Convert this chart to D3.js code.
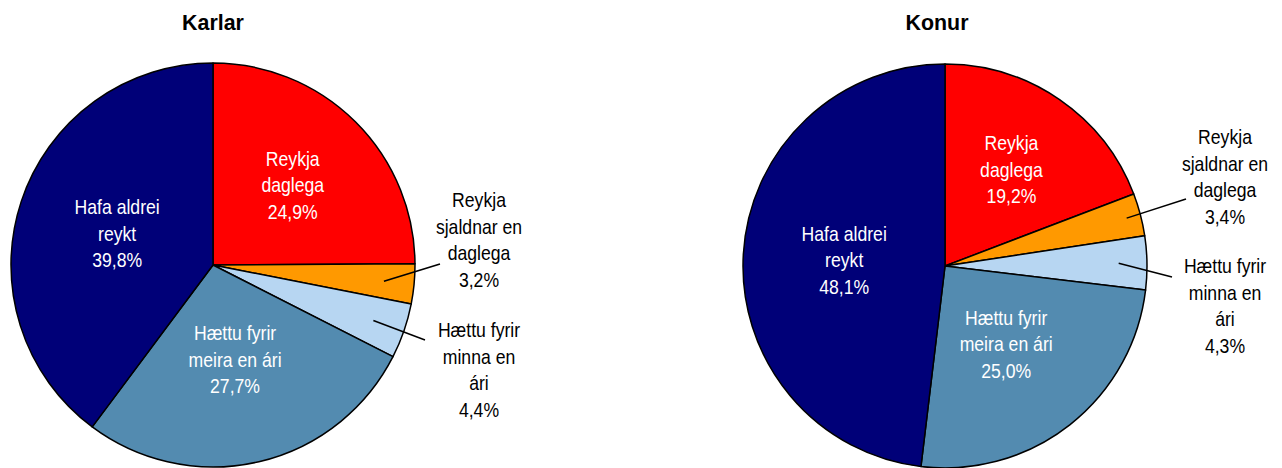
<!DOCTYPE html>
<html>
<head>
<meta charset="utf-8">
<script src="https://cdn.jsdelivr.net/npm/d3@7/dist/d3.min.js"></script>
<style>
  html, body { margin: 0; padding: 0; background: #fff; }
  svg { display: block; }
  text { font-family: "Liberation Sans", Arial, sans-serif; }
</style>
</head>
<body>
<svg id="chart" width="1282" height="468"></svg>
<script>
// ---- data ----
const categories = [
  ["Reykja", "daglega"],
  ["Reykja", "sjaldnar en", "daglega"],
  ["Hættu fyrir", "minna en", "ári"],
  ["Hættu fyrir", "meira en ári"],
  ["Hafa aldrei", "reykt"]
];
const titles = ["Karlar", "Konur"];
const karlar = [24.9, 3.2, 4.4, 27.7, 39.8];
const konur = [19.2, 3.4, 4.3, 25.0, 48.1];
const seriesValues = [karlar, konur];

// ---- styles / layout ----
const colors = ["#FF0000", "#FF9900", "#B7D6F2", "#538BB0", "#000078"];
const insideText = [true, false, false, true, true];
const R = 202;
const layouts = [
  { cx: 213, cy: 265, titleX: 213,
    outside: { 1: { tx: 266, ty: -65, ex: 227, ey: -1, r: 0.85 },
               2: { tx: 266, ty: 65, ex: 212, ey: 75, r: 0.84 } },
    inR: [0.56, 0, 0, 0.48, 0.5] },
  { cx: 945, cy: 266, titleX: 937,
    outside: { 1: { tx: 280, ty: -129, ex: 241, ey: -67, r: 0.93 },
               2: { tx: 280, ty: 0, ex: 227, ey: 11, r: 0.86 } },
    inR: [0.58, 0, 0, 0.49, 0.5] }
];
const titleBaseline = 30;
const lineH = 26.5;
const fontSize = 20.5;
const sx = 0.86;          // horizontal condensing to mimic a narrow face
const titleSx = 0.93;

const svg = d3.select("#chart");
const pie = d3.pie().sort(null).value(d => d);
const arc = d3.arc().innerRadius(0).outerRadius(R);
const fmt = v => d3.format(".1f")(v).replace(".", ",") + "%";

seriesValues.forEach((vals, ci) => {
  const L = layouts[ci];
  const g = svg.append("g").attr("transform", `translate(${L.cx},${L.cy})`);
  const arcs = pie(vals);

  g.selectAll("path.slice").data(arcs).enter().append("path")
    .attr("class", "slice")
    .attr("d", arc)
    .attr("fill", (d, i) => colors[i])
    .attr("stroke", "#000")
    .attr("stroke-width", 1.5)
    .attr("stroke-linejoin", "round");

  svg.append("text")
    .attr("transform", `translate(${L.titleX},${titleBaseline}) scale(${titleSx},1)`)
    .attr("text-anchor", "middle")
    .attr("font-weight", "bold")
    .attr("font-size", 23)
    .text(titles[ci]);

  arcs.forEach((d, i) => {
    const lines = categories[i].concat([fmt(vals[i])]);
    const mid = (d.startAngle + d.endAngle) / 2;
    let x, y0, fill;
    if (insideText[i]) {
      const rr = R * L.inR[i];
      x = Math.sin(mid) * rr;
      const yc = -Math.cos(mid) * rr;
      y0 = yc - (lines.length - 1) * lineH / 2;
      fill = "#fff";
    } else {
      const o = L.outside[i];
      x = o.tx; y0 = o.ty; fill = "#000";
      const rr = R * o.r;
      g.append("line")
        .attr("x1", Math.sin(mid) * rr).attr("y1", -Math.cos(mid) * rr)
        .attr("x2", o.ex).attr("y2", o.ey)
        .attr("stroke", "#000").attr("stroke-width", 1.5);
    }
    const t = g.append("text")
      .attr("transform", `translate(${x},0) scale(${sx},1)`)
      .attr("text-anchor", "middle")
      .attr("font-size", fontSize)
      .attr("fill", fill);
    lines.forEach((ln, k) => {
      t.append("tspan")
        .attr("x", 0)
        .attr("y", y0 + k * lineH + fontSize * 0.36)
        .text(ln);
    });
  });
});
</script>
</body>
</html>
